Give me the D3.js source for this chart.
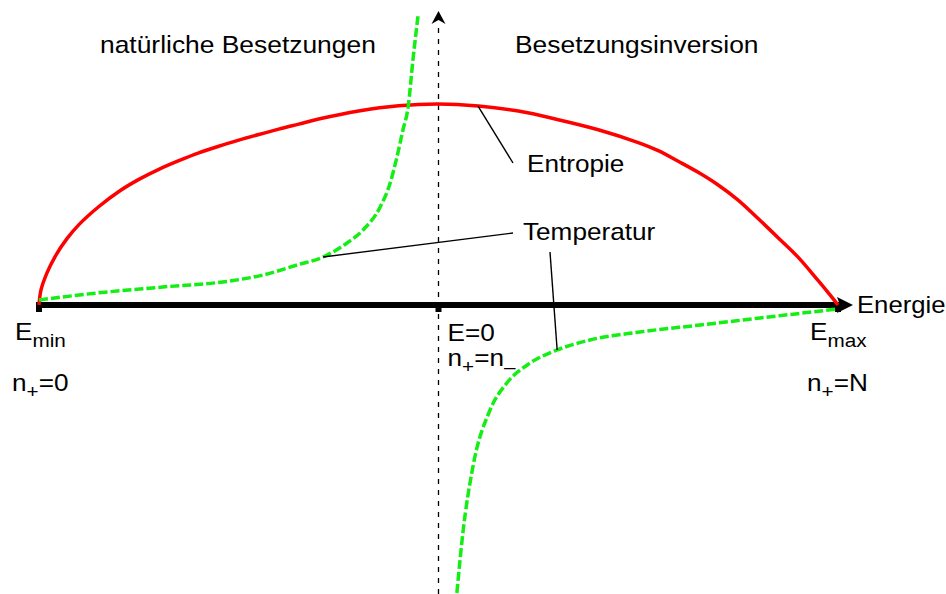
<!DOCTYPE html>
<html>
<head>
<meta charset="utf-8">
<script src="https://cdn.jsdelivr.net/npm/d3@7"></script>
<style>
  html, body { margin: 0; padding: 0; background: #fff; }
  svg { display: block; }
  text { font-family: "Liberation Sans", Arial, Helvetica, sans-serif; fill: #000; }
</style>
</head>
<body>
<svg id="chart" width="946" height="594"></svg>
<script>
// Two-level system: energy runs from E_min (-1) over E = 0 (n+ = n-) to E_max (+1)

// Entropy S(E), normalised to its maximum at E = 0
const entropyE = [-1.000, -0.995, -0.98, -0.96, -0.93, -0.90, -0.85, -0.80, -0.75, -0.70, -0.65,
                  -0.60, -0.55, -0.50, -0.45, -0.40, -0.35, -0.30, -0.20, -0.10, 0.00,
                   0.10, 0.20, 0.30, 0.40, 0.50, 0.55, 0.60, 0.65, 0.70, 0.75, 0.80, 0.85,
                   0.90, 0.95, 0.98, 1.00];
const entropyS = [0.000, 0.075, 0.160, 0.240, 0.330, 0.400, 0.490, 0.565, 0.625, 0.675, 0.718,
                  0.757, 0.790, 0.820, 0.848, 0.875, 0.900, 0.925, 0.965, 0.991, 1.000,
                  0.990, 0.965, 0.922, 0.872, 0.808, 0.768, 0.715, 0.660, 0.597, 0.522, 0.430, 0.335,
                  0.238, 0.122, 0.050, 0.000];

// Temperature, positive branch (natural occupation, E < 0)
const tempPosE = [-1.000, -0.855, -0.690, -0.522, -0.439, -0.354, -0.289, -0.229, -0.189,
                  -0.146, -0.121, -0.104, -0.089, -0.076, -0.064, -0.051];
const tempPosT = [0.25, 0.60, 0.90, 1.20, 1.50, 2.00, 2.40, 3.10, 3.75,
                  4.90, 6.10, 7.40, 8.75, 9.90, 12.25, 14.50];

// Temperature, negative branch (population inversion, E > 0)
const tempNegE = [0.046, 0.061, 0.086, 0.129, 0.171, 0.222, 0.297, 0.379, 0.504, 0.655, 0.805, 1.000];
const tempNegT = [-14.40, -11.40, -8.10, -5.25, -3.90, -3.00, -2.25, -1.75, -1.35, -1.00, -0.65, -0.20];

// Axis marks and their labels (text segments, "sub" = subscript)
const tickE = [-1, 0, 1];
const energyLabels = [
  [["E", ""], ["min", "sub"]],
  [["E=0", ""]],
  [["E", ""], ["max", "sub"]]
];
const occupationLabels = [
  [["n", ""], ["+", "sub"], ["=0", ""]],
  [["n", ""], ["+", "sub"], ["=n", ""], ["\u2013", "sub"]],
  [["n", ""], ["+", "sub"], ["=N", ""]]
];
const regionLabels = ["natürliche Besetzungen", "Besetzungsinversion"];
const axisTitle = "Energie";
const curveNames = ["Entropie", "Temperatur"];

// Where the annotation leaders touch the curves
const entropyNote = { E: 0.099, S: 0.99 };
const tempNotes = [{ E: -0.289, T: 2.40 }, { E: 0.297, T: -2.25 }];

const svg = d3.select("#chart");
const W = 946, H = 594;

const x = d3.scaleLinear().domain([-1, 1]).range([39, 838]);
const yS = d3.scaleLinear().domain([0, 1]).range([305, 104]);
const yT = d3.scaleLinear().domain([0, 1]).range([305, 285]);
const y0 = yS(0);

const FONT = 24, SUB = 19;

// text with optional subscripts, slightly widened
function label(px, py, segments, stretch) {
  const g = svg.append("g").attr("transform", `translate(${px},${py}) scale(${stretch || 1.09},1)`);
  const t = g.append("text").attr("x", 0).attr("y", 0).style("font-size", FONT + "px");
  let shift = 0;
  segments.forEach(([s, kind]) => {
    const want = kind === "sub" ? 7 : 0;
    t.append("tspan")
      .attr("dy", want - shift)
      .style("font-size", (kind === "sub" ? SUB : FONT) + "px")
      .text(s);
    shift = want;
  });
  return t;
}

// vertical dashed reference at E = 0
svg.append("line")
  .attr("x1", x(0)).attr("x2", x(0))
  .attr("y1", H).attr("y2", 22)
  .attr("stroke", "#000").attr("stroke-width", 1.3)
  .attr("stroke-dasharray", "5,6");
svg.append("path")
  .attr("d", `M${x(0)},11 L${x(0) + 7},24 L${x(0)},20 L${x(0) - 7},24 Z`)
  .attr("fill", "#000");

// energy axis
svg.append("line")
  .attr("x1", x(-1)).attr("x2", x(1) + 2)
  .attr("y1", y0).attr("y2", y0)
  .attr("stroke", "#000").attr("stroke-width", 6);
svg.append("path")
  .attr("d", `M${x(1) + 15},${y0} L${x(1) - 1},${y0 - 8} L${x(1) + 2},${y0} L${x(1) - 1},${y0 + 8} Z`)
  .attr("fill", "#000");
svg.selectAll("rect.tick").data(tickE).join("rect")
  .attr("class", "tick")
  .attr("x", d => x(d) - 3).attr("y", y0 - 3)
  .attr("width", 6).attr("height", 10)
  .attr("fill", "#000");

// entropy curve
const entropyPts = entropyE.map((e, i) => [x(e), yS(entropyS[i])]);
svg.append("path")
  .attr("d", d3.line().curve(d3.curveCatmullRom.alpha(0.5))(entropyPts))
  .attr("fill", "none").attr("stroke", "#ff0000").attr("stroke-width", 3.5);

// temperature branches
const tLine = d3.line().curve(d3.curveMonotoneX);
[[tempPosE, tempPosT], [tempNegE, tempNegT]].forEach(([es, ts]) => {
  svg.append("path")
    .attr("d", tLine(es.map((e, i) => [x(e), yT(ts[i])])))
    .attr("fill", "none").attr("stroke", "#14ee14").attr("stroke-width", 3.5)
    .attr("stroke-dasharray", "9,3");
});

// annotation leaders
const leader = (x1, y1, x2, y2) => svg.append("line")
  .attr("x1", x1).attr("y1", y1).attr("x2", x2).attr("y2", y2)
  .attr("stroke", "#000").attr("stroke-width", 1.4);
leader(x(entropyNote.E), yS(entropyNote.S), 513, 163);
leader(x(tempNotes[0].E), yT(tempNotes[0].T), 513, 233);
leader(x(tempNotes[1].E), yT(tempNotes[1].T), 550, 252);

// labels
label(100, 53, [[regionLabels[0], ""]], 1.1);
label(515, 53, [[regionLabels[1], ""]], 1.1);
label(527, 172, [[curveNames[0], ""]]);
label(523, 240, [[curveNames[1], ""]]);
label(857, 313, [[axisTitle, ""]], 1.07);

const labelDx = [-24, 9, -28];
tickE.forEach((e, i) => {
  label(x(e) + labelDx[i], i === 1 ? 341 : 340, energyLabels[i]);
  label(x(e) + labelDx[i] - (i === 1 ? 0 : 3), i === 1 ? 366 : 391, occupationLabels[i]);
});
</script>
</body>
</html>
